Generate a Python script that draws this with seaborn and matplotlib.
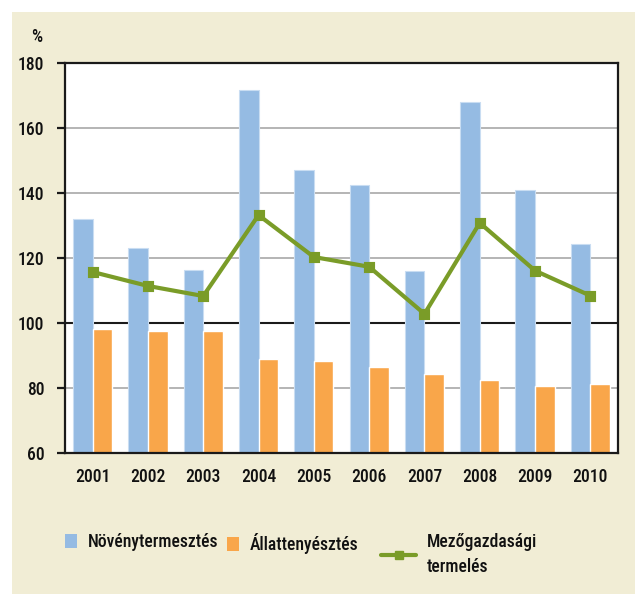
import numpy as np
import pandas as pd
import matplotlib
matplotlib.use("Agg")
import matplotlib.pyplot as plt
import matplotlib.font_manager as fm
from matplotlib.ft2font import FT2Font
import seaborn as sns
from matplotlib.patches import Rectangle, Patch
from matplotlib.lines import Line2D

years = ["2001", "2002", "2003", "2004", "2005", "2006", "2007", "2008", "2009", "2010"]
crop = [132.0, 123.2, 116.2, 171.8, 147.0, 142.5, 116.0, 168.0, 140.9, 124.3]
animal = [98.2, 97.5, 97.5, 88.9, 88.3, 86.5, 84.4, 82.5, 80.7, 81.3]
total = [115.7, 111.4, 108.3, 133.2, 120.3, 117.3, 102.8, 130.8, 116.1, 108.4]
series_names = ["Növénytermesztés", "Állattenyésztés", "Mezőgazdasági\ntermelés"]
yticks = [60, 80, 100, 120, 140, 160, 180]

BLUE = "#95BBE3"
ORANGE = "#F9A64A"
GREEN = "#7A9C28"
CREAM = "#F1EDD5"

sns.set_theme(style="white")
plt.rcParams["font.family"] = ["DejaVu Sans"]

BASE = {"Roboto", "Noto Sans", "Open Sans", "Liberation Sans", "DejaVu Sans", "Lato", "Inter"}


def allowed(name):
    if name in BASE:
        return True
    first = name.split()[0] if name else ""
    if first not in ("Roboto", "Noto", "Open", "Liberation", "DejaVu", "Lato", "Inter"):
        return False
    if any(k in name for k in ("Mono", "CJK", "Serif", "Display")):
        return False
    return ("Cond" in name) or ("Narrow" in name)


def measure(path):
    f = FT2Font(path)
    for ch in "őéÁ0N":
        if f.get_char_index(ord(ch)) == 0:
            return None
    f.set_size(100, 72)
    f.set_text("Növénytermesztés")
    w = f.get_width_height()[0] / 64.0
    f.set_text("N")
    hN = f.get_width_height()[1] / 64.0
    return w / hN, hN / 100.0, w / 100.0


TARGET = 6.9
best = None
for fe in fm.fontManager.ttflist:
    if fe.style != "normal" or not allowed(fe.name):
        continue
    try:
        wt = int(fe.weight)
    except Exception:
        wt = {"normal": 400, "regular": 400, "medium": 500, "book": 400}.get(str(fe.weight), 0)
    if wt < 400 or wt > 600:
        continue
    try:
        m = measure(fe.fname)
    except Exception:
        m = None
    if m is None:
        continue
    ratio, hper, wper = m
    score = abs(ratio - TARGET) / TARGET + (0.0 if wt == 500 else 0.03)
    if best is None or score < best[0]:
        best = (score, fe.fname, hper, wper)

if best is not None:
    FPATH, HPER, WPER = best[1], best[2], best[3]
else:
    FPATH, HPER, WPER = fm.findfont("DejaVu Sans"), 0.73, 8.5

# compromise between the original's letter height and its narrow label widths
size_px = min(12.5 / HPER, 132.0 / WPER)
FS = size_px * 72 / 100.0


def fp():
    return fm.FontProperties(fname=FPATH, size=FS)


W, H = 635, 596
fig = plt.figure(figsize=(W / 100, H / 100), dpi=100, facecolor="white")
fig.patches.append(Rectangle((12 / W, 2 / H), 1 - 12 / W, (594 - 12) / H,
                             transform=fig.transFigure, facecolor=CREAM,
                             edgecolor="none", zorder=-10))

ax = fig.add_axes([65 / W, 1 - 453 / H, (618 - 65) / W, (453 - 63) / H])
ax.set_facecolor("white")

df = pd.DataFrame({
    "year": years * 2,
    "value": crop + animal,
    "series": [series_names[0]] * len(years) + [series_names[1]] * len(years),
})
sns.barplot(data=df, x="year", y="value", hue="series", order=years,
            palette=[BLUE, ORANGE], width=0.71, saturation=1, ax=ax,
            legend=False, zorder=2)
for p in ax.patches[:len(years)]:
    p.set_edgecolor("#C9DDF2")
    p.set_linewidth(0.8)

sns.pointplot(x=years, y=total, order=years, color=GREEN, markers="s",
              markersize=5.5, linewidth=3, ax=ax, zorder=5)

ax.set_ylim(60, 180)
ax.set_xlim(-0.5, len(years) - 0.5)
ax.set_yticks(yticks)
ax.set_yticklabels([str(t) for t in yticks])
ax.set_xlabel("")
ax.set_ylabel("")

for t in yticks[1:-1]:
    if t == 100:
        ax.axhline(t, color="#1a1a1a", lw=1.5, zorder=1)
    else:
        ax.axhline(t, color="#A8A8A8", lw=1.2, zorder=1)

for s in ax.spines.values():
    s.set_visible(True)
    s.set_color("#1a1a1a")
    s.set_linewidth(1.6)

ax.set_xticks(np.arange(-0.5, len(years), 1.0), minor=True)
ax.tick_params(axis="x", which="major", length=0, pad=11, colors="#111111")
ax.tick_params(axis="x", which="minor", length=6, width=1.6, color="#1a1a1a", direction="out")
ax.tick_params(axis="y", which="major", length=6, width=1.6, color="#1a1a1a",
               direction="out", pad=9, labelcolor="#111111", left=True)
for lab in ax.get_xticklabels() + ax.get_yticklabels():
    lab.set_fontproperties(fp())

fig.text(37 / W, 1 - 37 / H, "%", ha="center", va="center", fontproperties=fp(), color="#111111")

leg_kw = dict(frameon=False, prop=fp(), borderpad=0, borderaxespad=0,
              handletextpad=0.6, labelcolor="#111111", loc="upper left")
l1 = fig.legend(handles=[Patch(facecolor=BLUE, edgecolor="none")], labels=[series_names[0]],
                bbox_to_anchor=(65 / W, 1 - 533 / H), handlelength=0.7, handleheight=0.85, **leg_kw)
l2 = fig.legend(handles=[Patch(facecolor=ORANGE, edgecolor="none")], labels=[series_names[1]],
                bbox_to_anchor=(227 / W, 1 - 533 / H), handlelength=0.7, handleheight=0.85, **leg_kw)
l3 = fig.legend(handles=[Line2D([], [], color=GREEN, lw=3, marker="s", markersize=5.5)],
                labels=[series_names[2]],
                bbox_to_anchor=(381 / W, 1 - 533 / H), handlelength=2.0, **leg_kw)
for l in (l1, l2, l3):
    for t in l.get_texts():
        t.set_linespacing(1.5)

fig.savefig("out.png", dpi=100, facecolor="white")
